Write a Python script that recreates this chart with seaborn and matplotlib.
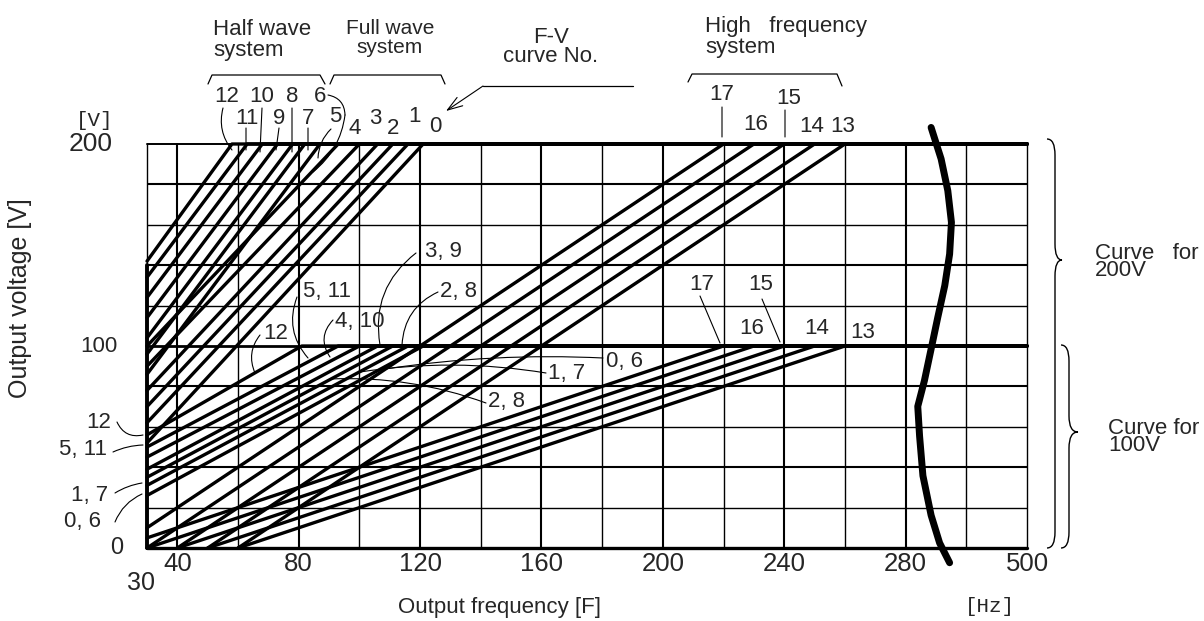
import pandas as pd
import seaborn as sns
import matplotlib.pyplot as plt
from matplotlib.lines import Line2D
from matplotlib.path import Path
from matplotlib.patches import PathPatch

# F-V curves
# full wave system, curves 0-5 (200V); at 100V curve n and n+6 coincide
fw_base_hz = [121, 116, 111, 106, 100, 93]
fw_v30_200 = [52, 62, 70, 78, 90, 100]
lv_v30_100 = [26, 31, 35, 39, 45, 50]

# half wave system, curves 6-12 (200V)
hw_base_hz = [87, 82, 78, 73, 68, 63, 58]
hw_v30_200 = [86, 96, 104, 114, 124, 134, 142]

# curve 12 at 100V
c12_base_hz = 81
c12_v30_100 = 56

# high frequency system, curves 13-17
hf_base_hz = [260, 250, 240, 230, 220]
hf_start_hz = [60, 50, 40, 30, 30]
hf_start_v200 = [0, 0, 0, 0, 10]
hf_start_v100 = [0, 0, 0, 0, 5]

x_ticks = [40, 80, 120, 160, 200, 240, 280, 320]
x_tick_labels = ['40', '80', '120', '160', '200', '240', '280', '500']
y_ticks = [0, 100, 200]
y_tick_labels = ['0', '100', '200']

# axis break mark
brk_hz = [288.4, 291.7, 293.9, 295.1, 294.5, 292.9, 290.6, 288.4, 286.2, 284.0,
          284.6, 285.7, 288.4, 291.2, 294.5]
brk_v = [208.2, 192.6, 176.9, 161.2, 145.5, 129.9, 114.2, 98.5, 82.9, 70.1,
         55.4, 35.8, 16.2, 2.5, -7.3]

F_END = 320

rows = []
def add_curve(name, f0, v0, fb, vmax):
    for f, v in [(f0, v0), (fb, vmax), (F_END, vmax)]:
        rows.append({'curve': name, 'f': f, 'V': v})

for i in range(6):
    add_curve('fw200_%d' % i, 30, fw_v30_200[i], fw_base_hz[i], 200)
    add_curve('lv100_%d' % i, 30, lv_v30_100[i], fw_base_hz[i], 100)
for i in range(7):
    add_curve('hw200_%d' % i, 30, hw_v30_200[i], hw_base_hz[i], 200)
add_curve('lv100_12', 30, c12_v30_100, c12_base_hz, 100)
for i in range(5):
    add_curve('hf200_%d' % i, hf_start_hz[i], hf_start_v200[i], hf_base_hz[i], 200)
    add_curve('hf100_%d' % i, hf_start_hz[i], hf_start_v100[i], hf_base_hz[i], 100)
df = pd.DataFrame(rows)

sns.set_theme(style='white')
plt.rcParams['font.family'] = ['Liberation Sans', 'DejaVu Sans']

W, H = 1204, 621
fig = plt.figure(figsize=(W / 100, H / 100), dpi=100)
ax = fig.add_axes([147 / W, 1 - 548 / H, 880 / W, 404 / H])
ax.set_xlim(30, F_END)
ax.set_ylim(0, 200)
for s in ax.spines.values():
    s.set_visible(False)

# grid
for v in range(20, 200, 20):
    lw = 2.0 if v == 100 else (1.5 if v in (40, 80, 140, 180) else 1.0)
    ax.axhline(v, color='black', lw=lw, zorder=1)
ax.axhline(200, color='black', lw=1.4, zorder=1, clip_on=False)
ax.axhline(0, color='black', lw=2.4, zorder=1, clip_on=False)
for f in [30, 40] + list(range(60, 321, 20)):
    lw = 1.5 if f % 40 == 0 and f < 320 else 1.0
    ax.axvline(f, color='black', lw=lw, zorder=1, clip_on=False)
ax.plot([30, 30], [0, 140], color='black', lw=2.8, clip_on=False, zorder=2)

sns.lineplot(data=df, x='f', y='V', units='curve', estimator=None, sort=False,
             color='black', lw=2.4, ax=ax, legend=False, clip_on=False, zorder=3)
ax.plot(brk_hz, brk_v, color='black', lw=5, clip_on=False, zorder=4)

ax.set_xticks(x_ticks)
ax.set_xticklabels(x_tick_labels, fontsize=18.5)
ax.set_yticks([])
ax.tick_params(axis='x', length=0, pad=3)
ax.set_xlabel('')
ax.set_ylabel('')

ytr = ax.get_yaxis_transform()
for val, lab, xr, sz in zip(y_ticks, y_tick_labels, [123, 117, 113], [17, 16, 19]):
    ax.text((xr - 147) / 880, val, lab, transform=ytr, ha='right', va='center',
            fontsize=sz, clip_on=False)


def txt(s, x, y, size, **kw):
    kw.setdefault('ha', 'center')
    kw.setdefault('va', 'center')
    fig.text(x / W, 1 - y / H, s, fontsize=size, **kw)


def leader(x0, y0, x1, y1, rad=0.0):
    ax.annotate('', xy=(x1, H - y1), xycoords='figure pixels',
                xytext=(x0, H - y0), textcoords='figure pixels',
                arrowprops=dict(arrowstyle='-', connectionstyle='arc3,rad=%s' % rad,
                                lw=0.8, color='black', shrinkA=0, shrinkB=0))


def poly(pts, lw=0.9):
    fig.add_artist(Line2D([p[0] / W for p in pts], [1 - p[1] / H for p in pts],
                          color='black', lw=lw, transform=fig.transFigure))


def brace(xe, xm, xt, yt, ytip, yb, c=16):
    pts = [(xe, yt), (xm, yt), (xm, yt + c), (xm, ytip - c), (xm, ytip), (xt, ytip),
           (xm, ytip), (xm, ytip + c), (xm, yb - c), (xm, yb), (xe, yb)]
    codes = [Path.MOVETO, Path.CURVE3, Path.CURVE3, Path.LINETO, Path.CURVE3, Path.CURVE3,
             Path.CURVE3, Path.CURVE3, Path.LINETO, Path.CURVE3, Path.CURVE3]
    p = Path([(x / W, 1 - y / H) for x, y in pts], codes)
    fig.add_artist(PathPatch(p, fill=False, lw=1.0, color='black', transform=fig.transFigure))


# curve numbers
num_size = 16
for s, x, y in [('12', 227, 97), ('10', 262, 97), ('8', 292, 97), ('6', 320, 97),
                ('11', 247, 118), ('9', 279, 118), ('7', 308, 118), ('5', 335, 117),
                ('4', 355, 128), ('3', 375, 118), ('2', 393, 128), ('1', 415, 117),
                ('0', 435, 127),
                ('17', 722, 95), ('16', 756, 125), ('15', 789, 98), ('14', 812, 126),
                ('13', 843, 126),
                ('3, 9', 443, 252), ('2, 8', 458, 291), ('5, 11', 327, 292),
                ('4, 10', 360, 322), ('12', 276, 333), ('17', 702, 285), ('15', 761, 285),
                ('16', 752, 328), ('14', 817, 328), ('13', 863, 332), ('0, 6', 625, 361),
                ('1, 7', 567, 373), ('2, 8', 506, 402),
                ('12', 99, 423), ('5, 11', 83, 450), ('1, 7', 90, 495), ('0, 6', 83, 521)]:
    txt(s, x, y, num_size)

for a in [(223, 108, 232, 150, 0.25), (246, 128, 246, 150, 0), (262, 108, 260, 152, 0),
          (279, 128, 276, 150, 0), (292, 108, 292, 152, 0), (308, 128, 308, 150, 0),
          (328, 95, 345, 115, -0.4), (345, 115, 313, 172, -0.2), (331, 129, 318, 158, 0.2),
          (722, 107, 722, 137, 0), (785, 110, 785, 137, 0),
          (416, 253, 380, 345, 0.3), (438, 292, 402, 345, 0.3), (297, 297, 308, 358, 0.3),
          (333, 320, 330, 357, 0.4), (260, 335, 255, 373, 0.3), (700, 296, 720, 343, 0),
          (762, 299, 780, 342, 0), (603, 358, 385, 369, 0.05), (546, 373, 360, 372, 0.08),
          (486, 403, 330, 379, 0.1),
          (117, 422, 143, 435, 0.4), (113, 452, 143, 445, -0.1), (115, 493, 142, 483, -0.1),
          (115, 522, 142, 494, -0.2)]:
    leader(*a)

# group brackets and headers
poly([(208, 84), (212, 75), (320, 75), (325, 84)])
poly([(330, 84), (334, 75), (441, 75), (445, 84)])
poly([(688, 82), (692, 74), (837, 74), (842, 86)])
poly([(633, 86), (483, 86)])
ax.annotate('', xy=(446, H - 111), xycoords='figure pixels', xytext=(483, H - 86),
            textcoords='figure pixels',
            arrowprops=dict(arrowstyle='->,head_length=0.9,head_width=0.3', lw=0.8,
                            color='black', shrinkA=0, shrinkB=0))

txt('Half wave\nsystem', 213, 40, 16, ha='left', linespacing=1.0)
txt('Full wave\nsystem', 390, 38, 15, linespacing=1.0)
txt('F-V\ncurve No.', 551, 47, 16, linespacing=0.9)
txt('High   frequency\nsystem', 705, 37, 16, ha='left', linespacing=1.0)

brace(1047, 1055, 1062, 139, 260, 548)
brace(1061, 1069, 1078, 345, 432, 548)
txt('Curve   for\n200V', 1095, 262, 16, ha='left', linespacing=0.7)
txt('Curve for\n100V', 1108, 437, 16, ha='left', linespacing=0.72)

txt('[V]', 95, 121, 15, family='Liberation Mono')
txt('[Hz]', 990, 607, 15, family='Liberation Mono')
txt('30', 141, 583, 18)
txt('Output frequency [F]', 500, 607, 16)
txt('Output voltage [V]', 20, 298, 18, rotation=90)

fig.savefig('out.png', dpi=100, facecolor='white')
